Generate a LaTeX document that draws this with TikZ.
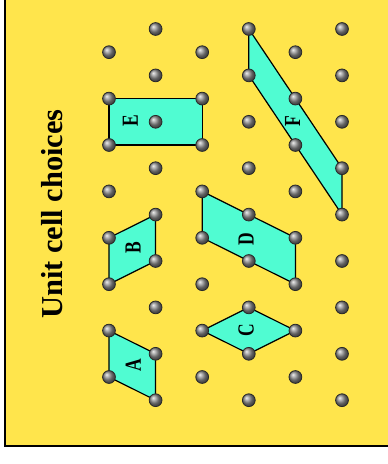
\documentclass[tikz,border=0pt]{standalone}
\usepackage{fontspec}
\setmainfont{Liberation Serif}
\usepackage{xcolor}
\usepackage{tikz}
\usetikzlibrary{positioning}
\definecolor{amarelo}{RGB}{255,229,76}
\definecolor{verdeagua}{RGB}{80,252,210}
\definecolor{cinzaescuro}{RGB}{40,40,40}
\tikzset{
  celula/.style={draw=black,fill=verdeagua,line width=0.6pt,line join=round},
  ponto/.style={ball color=gray!90,draw=cinzaescuro,line width=0.4pt},
  rotulo/.style={rotate=90,inner sep=0pt,font=\fontsize{11.5}{13}\selectfont\bfseries},
  titulo/.style={rotate=90,inner sep=0pt,font=\fontsize{15.2}{18}\selectfont\bfseries}
}

\begin{document}
\begin{tikzpicture}[x=23.3pt,y=-11.6pt]
  \useasboundingbox (-2.339,-1.25) rectangle (5.987,18.75);
  \fill[amarelo] (-2.232,-1.25) rectangle (5.987,17.97);
  \draw[line width=1pt] (-2.232,-1.25) -- (-2.232,17.97) -- (5.987,17.97);
  % lattice points
  \foreach \c in {0,2,4}
    \foreach \r in {1,3,...,15}
      {\coordinate (p\c-\r) at (\c,\r);}
  \foreach \c in {1,3,5}
    \foreach \r in {0,2,...,16}
      {\coordinate (p\c-\r) at (\c,\r);}
  % unit cells
  \draw[celula] (p0-3) -- (p2-3) -- (p2-5) -- (p0-5) -- cycle;
  \draw[celula] (p3-0) -- (p5-6) -- (p5-8) -- (p3-2) -- cycle;
  \draw[celula] (p2-7) -- (p4-9) -- (p4-11) -- (p2-9) -- cycle;
  \draw[celula] (p2-13) -- (p3-12) -- (p4-13) -- (p3-14) -- cycle;
  \draw[celula] (p0-9) -- (p1-8) -- (p1-10) -- (p0-11) -- cycle;
  \draw[celula] (p0-13) -- (p1-14) -- (p1-16) -- (p0-15) -- cycle;
  \foreach \c in {0,2,4}
    \foreach \r in {1,3,...,15}
      {\shadedraw[ponto] (p\c-\r) circle (3.2pt);}
  \foreach \c in {1,3,5}
    \foreach \r in {0,2,...,16}
      {\shadedraw[ponto] (p\c-\r) circle (3.2pt);}
  \foreach \x/\y/\lab in {0.46/3.94/E,3.94/3.97/F,2.94/9.05/D,2.94/12.97/C,0.52/9.44/B,0.52/14.48/A}
    {\node[rotulo] (rot\lab) at (\x,\y) {\scalebox{0.76}[1]{\lab}};}
  \node[titulo] (titulo) at (-1.212,7.97) {Unit cell choices};
\end{tikzpicture}
\end{document}
